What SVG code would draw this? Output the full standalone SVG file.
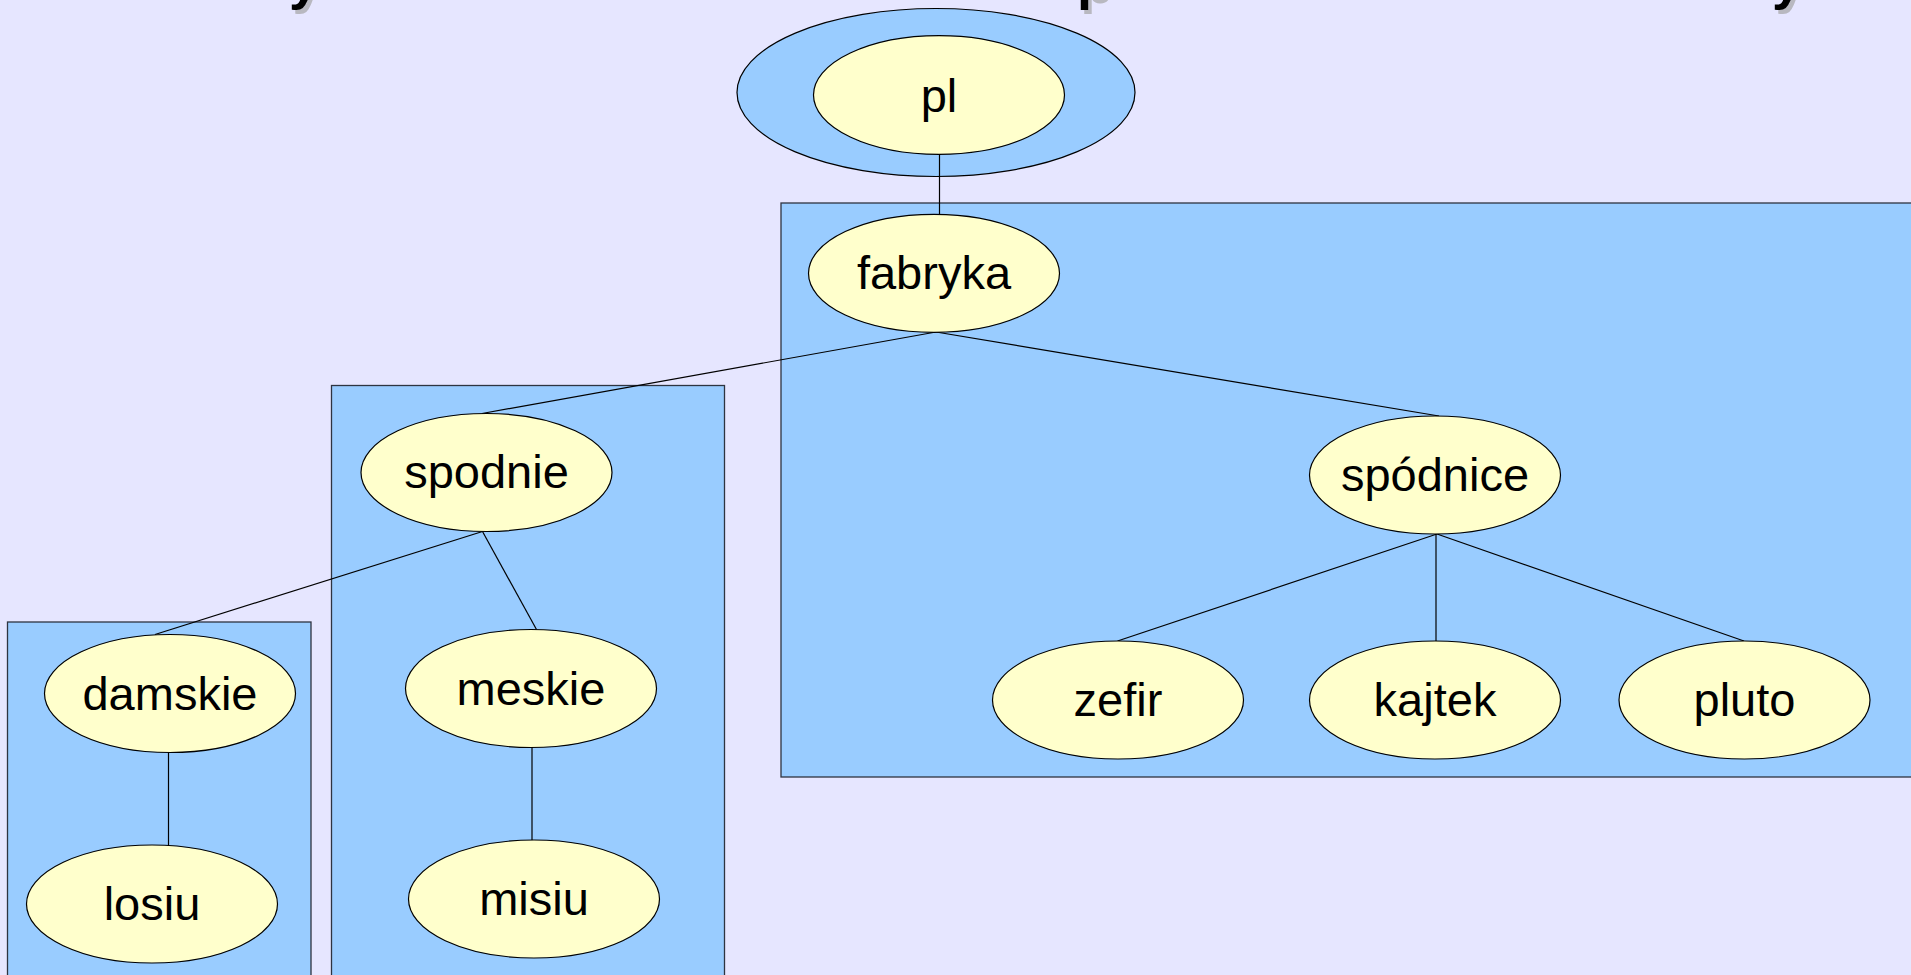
<svg xmlns="http://www.w3.org/2000/svg" width="1911" height="975" viewBox="0 0 1911 975">
  <style>
    .cluster { fill: #99ccff; stroke: #2e3440; stroke-width: 1.3; }
    .outer { fill: #99ccff; stroke: #000; stroke-width: 1.2; }
    .node ellipse { fill: #ffffcc; stroke: #000; stroke-width: 1.2; }
    .node text { font-family: "Liberation Sans", Arial, sans-serif; font-size: 47px; fill: #000; text-anchor: middle; }
    .edge { stroke: #000; stroke-width: 1.2; fill: none; }
    .title { font-family: "Liberation Sans", Arial, sans-serif; font-size: 54px; font-weight: bold; }
  </style>

  <!-- page background -->
  <rect x="0" y="0" width="1911" height="975" fill="#e6e6ff"/>

  <!-- heading, mostly above the visible page -->
  <g id="heading">
    <g fill="#b8b8c0" transform="translate(3.5,3.5)">
      <text class="title" x="289" y="-1">y</text>
      <text class="title" x="1077" y="-1">p</text>
      <text class="title" x="1772" y="-1">y</text>
    </g>
    <g fill="#000">
      <text class="title" x="289" y="-1">y</text>
      <text class="title" x="1077" y="-1">p</text>
      <text class="title" x="1772" y="-1">y</text>
    </g>
  </g>

  <!-- group boxes -->
  <g id="clusters">
    <rect id="cluster-fabryka" class="cluster" x="781" y="203" width="1150" height="574"/>
    <rect id="cluster-spodnie" class="cluster" x="331.5" y="385.5" width="393" height="610"/>
    <rect id="cluster-damskie" class="cluster" x="7.5" y="622" width="303.5" height="380"/>
    <ellipse id="cluster-pl" class="outer" cx="936" cy="92.5" rx="199" ry="84"/>
  </g>

  <!-- connectors -->
  <g id="connectors">
    <line class="edge" x1="939.5" y1="154" x2="939.5" y2="214.5"/>
    <line class="edge" x1="936" y1="332" x2="482" y2="413.5"/>
    <line class="edge" x1="936" y1="332" x2="1439" y2="416"/>
    <line class="edge" x1="482.5" y1="531.5" x2="155" y2="634.5"/>
    <line class="edge" x1="482.5" y1="531.5" x2="536.5" y2="629.5"/>
    <line class="edge" x1="168.5" y1="752.5" x2="168.5" y2="845"/>
    <line class="edge" x1="532" y1="747.5" x2="532" y2="840"/>
    <line class="edge" x1="1437" y1="534" x2="1117.5" y2="641"/>
    <line class="edge" x1="1436" y1="534" x2="1436" y2="641"/>
    <line class="edge" x1="1437" y1="534" x2="1744" y2="641"/>
  </g>

  <!-- nodes -->
  <g id="node-pl" class="node">
    <ellipse cx="939" cy="95" rx="125.5" ry="59.3"/>
    <text x="939" y="112">pl</text>
  </g>
  <g id="node-fabryka" class="node">
    <ellipse cx="934" cy="273.3" rx="125.5" ry="59"/>
    <text x="934" y="289">fabryka</text>
  </g>
  <g id="node-spodnie" class="node">
    <ellipse cx="486.5" cy="472.5" rx="125.5" ry="59"/>
    <text x="486.5" y="488">spodnie</text>
  </g>
  <g id="node-damskie" class="node">
    <ellipse cx="170" cy="693.5" rx="125.5" ry="59"/>
    <text x="170" y="709.5">damskie</text>
  </g>
  <g id="node-meskie" class="node">
    <ellipse cx="531" cy="688.5" rx="125.5" ry="59"/>
    <text x="531" y="704.5">meskie</text>
  </g>
  <g id="node-losiu" class="node">
    <ellipse cx="152" cy="904" rx="125.5" ry="59"/>
    <text x="152" y="920">losiu</text>
  </g>
  <g id="node-misiu" class="node">
    <ellipse cx="534" cy="899" rx="125.5" ry="59"/>
    <text x="534" y="915">misiu</text>
  </g>
  <g id="node-spodnice" class="node">
    <ellipse cx="1435" cy="475" rx="125.5" ry="59"/>
    <text x="1435" y="491">spódnice</text>
  </g>
  <g id="node-zefir" class="node">
    <ellipse cx="1118" cy="700" rx="125.5" ry="59"/>
    <text x="1118" y="716">zefir</text>
  </g>
  <g id="node-kajtek" class="node">
    <ellipse cx="1435" cy="700" rx="125.5" ry="59"/>
    <text x="1435" y="716">kajtek</text>
  </g>
  <g id="node-pluto" class="node">
    <ellipse cx="1744.5" cy="700" rx="125.5" ry="59"/>
    <text x="1744.5" y="716">pluto</text>
  </g>
</svg>
